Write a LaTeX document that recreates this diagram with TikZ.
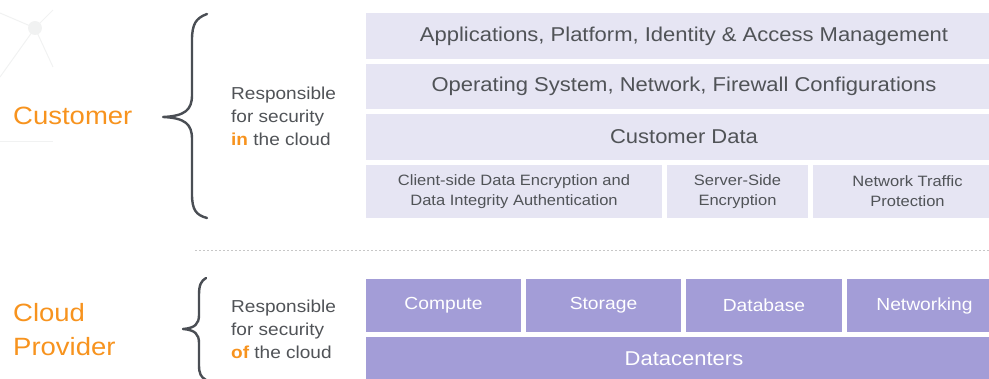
\documentclass[tikz,border=0pt]{standalone}
\usepackage{fontspec}
\setmainfont[FakeStretch=1.1]{Liberation Sans}
\definecolor{lightbox}{HTML}{E6E5F3}
\definecolor{darkbox}{HTML}{A39DD7}
\definecolor{txtgray}{HTML}{505357}
\definecolor{orng}{HTML}{F7931E}
\definecolor{bracec}{HTML}{4A4E54}
\definecolor{faint}{HTML}{F1F2F2}
\tikzset{
  lbox/.style={fill=lightbox, inner sep=0pt, text=txtgray, align=center, font=\fontsize{20}{24}\selectfont},
  sbox/.style={fill=lightbox, inner sep=0pt, text=txtgray, align=center, font=\fontsize{15}{20}\selectfont},
  dbox/.style={fill=darkbox, inner sep=0pt, text=white, align=center, font=\fontsize{17.5}{22}\selectfont},
  who/.style={text=orng, anchor=west, inner sep=0pt, font=\fontsize{25}{34}\selectfont, align=left},
  resp/.style={text=txtgray, anchor=west, inner sep=0pt, align=left, font=\fontsize{17.3}{23}\selectfont},
  bracestroke/.style={draw=bracec, line width=2.4pt, line cap=round, line join=round},
}
\begin{document}
\begin{tikzpicture}[x=1pt, y=-1pt]
\useasboundingbox (0,0) rectangle (989,379);
% faint background decoration
\begin{scope}[draw=faint, line width=1pt]
\coordinate (hub) at (35,28);
\draw (hub) -- (0,13);
\draw (hub) -- (53,10);
\draw (hub) -- (0,77);
\draw (hub) -- (53,67);
\draw (0,142) -- (53,142);
\fill[faint] (hub) circle (7);
\end{scope}
% customer stack
\node[lbox, minimum width=636, minimum height=46] (apps) at (684,36) {Applications, Platform, Identity \& Access Management};
\node[lbox, minimum width=636, minimum height=45] (os) at (684,86.5) {Operating System, Network, Firewall Configurations};
\node[lbox, minimum width=636, minimum height=46] (data) at (684,137) {Customer Data};
\node[sbox, minimum width=296, minimum height=53] (client) at (514,191.5) {Client-side Data Encryption and\\Data Integrity Authentication};
\node[sbox, minimum width=141, minimum height=53] (server) at (737.5,191.5) {Server-Side\\Encryption};
\node[sbox, minimum width=189, minimum height=53] (traffic) at (907.5,191.5) {Network Traffic\\Protection};
% divider
\coordinate (dl) at (195,250);
\coordinate (dr) at (989,250);
\draw[draw=black!22, line width=0.8pt, dash pattern=on 2pt off 2pt] (dl) -- (dr);
% provider stack
\node[dbox, minimum width=155, minimum height=53] (compute) at (443.5,305.5) {Compute};
\node[dbox, minimum width=155, minimum height=53] (storage) at (603.5,305.5) {Storage};
\node[dbox, minimum width=156, minimum height=53] (database) at (764,305.5) {Database};
\node[dbox, minimum width=155, minimum height=53] (networking) at (924.5,305.5) {Networking};
\node[dbox, minimum width=636, minimum height=44, font=\fontsize{20}{24}\selectfont] (dc) at (684,359) {Datacenters};
% labels
\node[who] (cust) at (13,116) {Customer};
\node[who] (prov) at (13,330) {Cloud\\Provider};
\node[resp] (resp1) at (231,116) {Responsible\\for security\\{\bfseries\color{orng}in} the cloud};
\node[resp] (resp2) at (231,329) {Responsible\\for security\\{\bfseries\color{orng}of} the cloud};
% braces
\draw[bracestroke] (207,14) .. controls (196,18) and (192,24) .. (192,40) -- (192,95)
  .. controls (192,110) and (185,116) .. (163,117)
  .. controls (185,118) and (192,124) .. (192,139) -- (192,194)
  .. controls (192,210) and (196,215) .. (207,218);
\draw[bracestroke] (206,278) .. controls (201,281) and (199,285) .. (199,295) -- (199,315)
  .. controls (199,324) and (195,328) .. (183,329)
  .. controls (195,330) and (199,334) .. (199,343) -- (199,365)
  .. controls (199,374) and (201,377) .. (206,380);
\end{tikzpicture}
\end{document}
